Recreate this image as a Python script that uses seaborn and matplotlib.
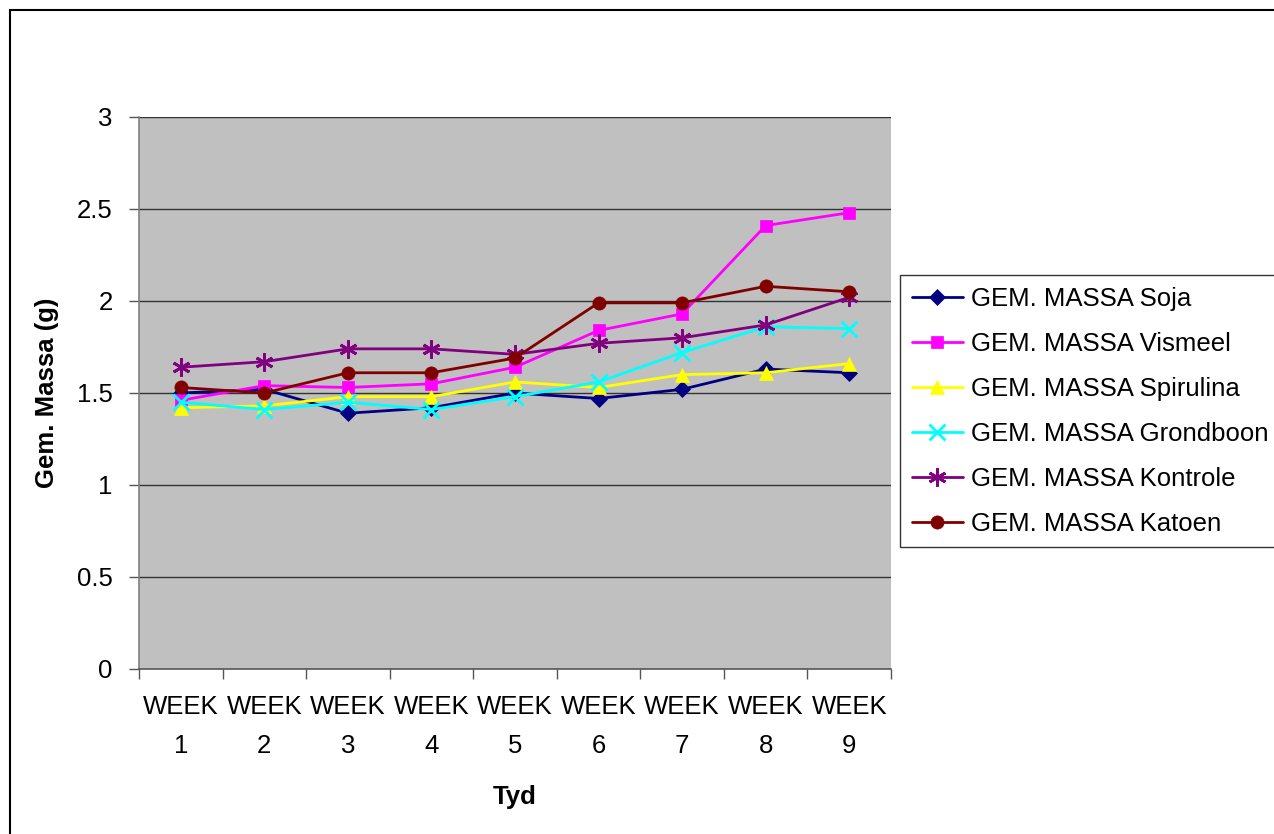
import numpy as np
import pandas as pd
import matplotlib
matplotlib.use("Agg")
import matplotlib.pyplot as plt
from matplotlib.patches import Rectangle
import seaborn as sns

weeks = ["WEEK\n1", "WEEK\n2", "WEEK\n3", "WEEK\n4", "WEEK\n5",
         "WEEK\n6", "WEEK\n7", "WEEK\n8", "WEEK\n9"]
soja = [1.50, 1.52, 1.39, 1.42, 1.50, 1.47, 1.52, 1.63, 1.61]
vismeel = [1.46, 1.54, 1.53, 1.55, 1.64, 1.84, 1.93, 2.41, 2.48]
spirulina = [1.42, 1.43, 1.48, 1.48, 1.56, 1.53, 1.60, 1.61, 1.66]
grondboon = [1.45, 1.41, 1.45, 1.41, 1.48, 1.56, 1.72, 1.86, 1.85]
kontrole = [1.64, 1.67, 1.74, 1.74, 1.71, 1.77, 1.80, 1.87, 2.02]
katoen = [1.53, 1.50, 1.61, 1.61, 1.69, 1.99, 1.99, 2.08, 2.05]
series_names = ["GEM. MASSA Soja", "GEM. MASSA Vismeel", "GEM. MASSA Spirulina",
                "GEM. MASSA Grondboon", "GEM. MASSA Kontrole", "GEM. MASSA Katoen"]
yticks = [0, 0.5, 1, 1.5, 2, 2.5, 3]

sns.set_style("white")
plt.rcParams['font.family'] = ['Liberation Sans', 'DejaVu Sans']
plt.rcParams['text.color'] = 'black'
plt.rcParams['axes.labelcolor'] = 'black'
plt.rcParams['xtick.color'] = 'black'
plt.rcParams['ytick.color'] = 'black'

fig = plt.figure(figsize=(12.74, 8.34), dpi=100)
ax = fig.add_axes([139/1274, 1-669/834, (891-139)/1274, (669-117)/834])
ax.set_facecolor("#C0C0C0")

all_vals = [soja, vismeel, spirulina, grondboon, kontrole, katoen]
colors = ["#000080", "#FF00FF", "#FFFF00", "#00FFFF", "#800080", "#800000"]
markers = ["D", "s", "^", "x", (6, 2, 0), "o"]
msizes = [8.5, 8.5, 10.5, 11, 13, 9.5]
xpos = np.arange(len(weeks))

for name, vals, c, m, ms in zip(series_names, all_vals, colors, markers, msizes):
    sns.lineplot(x=xpos, y=vals, ax=ax, color=c, marker=m, markersize=ms,
                 markeredgecolor=c, markerfacecolor=c,
                 markeredgewidth=2 if m in ("x", (6, 2, 0)) else 0.5,
                 linewidth=2, label=name, legend=False, zorder=3)

ax.set_xlim(-0.5, len(weeks) - 0.5)
ax.set_ylim(0, 3)
ax.set_yticks(yticks)
ax.set_yticklabels(["0", "0.5", "1", "1.5", "2", "2.5", "3"])
ax.set_xticks(np.arange(-0.5, len(weeks)), labels=[""] * (len(weeks) + 1))
ax.set_xticks(xpos, labels=weeks, minor=True)
ax.tick_params(axis="x", which="major", length=7, width=1, color="#555555", direction="out", bottom=True)
ax.tick_params(axis="x", which="minor", length=0, pad=19, labelsize=18.5)
ax.tick_params(axis="y", length=7, width=1, color="#555555", direction="out", left=True, pad=12, labelsize=18.5)
for lab in ax.get_xticklabels(minor=True):
    lab.set_linespacing(1.75)

for y in yticks[1:]:
    ax.axhline(y, color="#333333", linewidth=1.0, zorder=1)

for s in ["top", "right"]:
    ax.spines[s].set_visible(False)
ax.spines["left"].set_color("#808080")
ax.spines["left"].set_linewidth(1.2)
ax.spines["bottom"].set_color("#555555")
ax.spines["bottom"].set_linewidth(1.2)

ax.set_ylabel("Gem. Massa (g)", fontsize=18.5, fontweight="bold", labelpad=13)
ax.set_xlabel("Tyd", fontsize=18.5, fontweight="bold", labelpad=20)

handles, labels = ax.get_legend_handles_labels()
leg = fig.legend(handles, labels, loc="upper left",
                 bbox_to_anchor=(900/1274, 1-275/834), fontsize=18.5,
                 frameon=True, fancybox=False, edgecolor="black",
                 handlelength=2.0, handletextpad=0.3, labelspacing=0.82,
                 borderpad=0.45, borderaxespad=0)
leg.get_frame().set_linewidth(1.0)

fig.patches.append(Rectangle((10/1274, -0.1), 1.2, 1 - 10/834 + 0.1,
                             transform=fig.transFigure, fill=False,
                             edgecolor="black", linewidth=1.5))

fig.savefig("out.png", dpi=100)
